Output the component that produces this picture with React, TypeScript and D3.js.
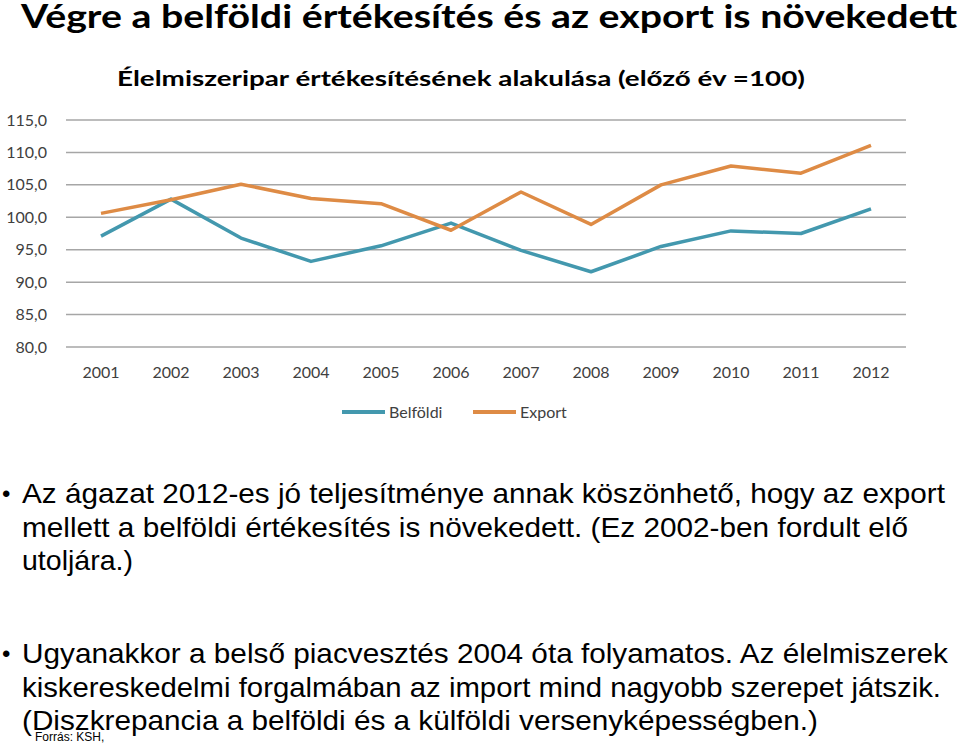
import * as d3 from "d3";
import { FC } from "react";

// chart data
const years = ["2001", "2002", "2003", "2004", "2005", "2006", "2007", "2008", "2009", "2010", "2011", "2012"];
const belfoldi = [97.1, 102.8, 96.8, 93.2, 95.6, 99.1, 94.9, 91.6, 95.5, 97.9, 97.5, 101.3];
const exportValues = [100.6, 102.7, 105.1, 102.9, 102.1, 98.0, 103.9, 98.9, 105.0, 107.9, 106.8, 111.1];
const yTicks = [80, 85, 90, 95, 100, 105, 110, 115];
const seriesNames = ["Belföldi", "Export"];

// slide text, with the width each line takes in the picture
const bulletOne = [
  { t: "Az ágazat 2012-es jó teljesítménye annak köszönhető, hogy az export", w: 923 },
  { t: "mellett a belföldi értékesítés is növekedett. (Ez 2002-ben fordult elő", w: 886 },
  { t: "utoljára.)", w: 111 },
];
const bulletTwo = [
  { t: "Ugyanakkor a belső piacvesztés 2004 óta folyamatos. Az élelmiszerek", w: 926 },
  { t: "kiskereskedelmi forgalmában az import mind nagyobb szerepet játszik.", w: 919 },
  { t: "(Diszkrepancia a belföldi és a külföldi versenyképességben.)", w: 796 },
];

const W = 960;
const H = 745;
const COLORS = ["#4398AE", "#DE8B45"];
const chartFont = "Lato, 'Open Sans', sans-serif";
const bodyFont = "'Liberation Sans', Arial, sans-serif";

const App: FC = () => {
  const x = d3.scaleBand<string>().domain(years).range([66, 906]);
  const y = d3.scaleLinear().domain([80, 115]).range([347, 120]);
  const cx = (yr: string) => (x(yr) ?? 0) + x.bandwidth() / 2;

  const line = d3
    .line<number>()
    .x((_, i) => cx(years[i]))
    .y((d) => y(d));

  const fmt = (v: number) => v.toFixed(1).replace(".", ",");

  return (
    <svg
      width={W}
      height={H}
      style={{ position: "absolute", left: 0, top: 0, background: "#fff" }}
    >
      {/* slide title */}
      <text
        x={21}
        y={28}
        fontFamily={chartFont}
        fontWeight={700}
        fontSize={33}
        textLength={936}
        lengthAdjust="spacingAndGlyphs"
        fill="#000"
      >
        Végre a belföldi értékesítés és az export is növekedett
      </text>

      {/* chart title */}
      <text
        x={117}
        y={86}
        fontFamily={chartFont}
        fontWeight={700}
        fontSize={21}
        textLength={688}
        lengthAdjust="spacingAndGlyphs"
        fill="#000"
      >
        Élelmiszeripar értékesítésének alakulása (előző év =100)
      </text>

      {/* grid + y labels */}
      {yTicks.map((t) => (
        <g key={t}>
          <line x1={66} x2={906} y1={y(t)} y2={y(t)} stroke="#A6A6A6" strokeWidth={1.5} />
          <text
            x={47}
            y={y(t)}
            dy="0.35em"
            textAnchor="end"
            fontFamily={chartFont}
            fontSize={16}
            fill="#404040"
          >
            {fmt(t)}
          </text>
        </g>
      ))}

      {/* x labels */}
      {years.map((yr) => (
        <text
          key={yr}
          x={cx(yr)}
          y={378}
          textAnchor="middle"
          fontFamily={chartFont}
          fontSize={16}
          fill="#404040"
        >
          {yr}
        </text>
      ))}

      {/* series */}
      {[belfoldi, exportValues].map((s, i) => (
        <path
          key={seriesNames[i]}
          d={line(s) ?? ""}
          fill="none"
          stroke={COLORS[i]}
          strokeWidth={3.5}
          strokeLinejoin="round"
        />
      ))}

      {/* legend */}
      {seriesNames.map((name, i) => {
        const lx = i === 0 ? 342 : 473;
        return (
          <g key={name}>
            <line x1={lx} x2={lx + 43} y1={412} y2={412} stroke={COLORS[i]} strokeWidth={4} />
            <text
              x={lx + 47}
              y={412}
              dy="0.35em"
              fontFamily={chartFont}
              fontSize={16}
              fill="#404040"
            >
              {name}
            </text>
          </g>
        );
      })}

      {/* bullets */}
      {[
        { lines: bulletOne, top: 503 },
        { lines: bulletTwo, top: 663 },
      ].map((b, bi) => (
        <g key={bi} fontFamily={bodyFont} fontSize={28} fill="#000">
          <text x={2} y={b.top - 1} fontSize={24}>
            •
          </text>
          {b.lines.map((l, li) => (
            <text
              key={li}
              x={22}
              y={b.top + li * 33.5}
              textLength={l.w}
              lengthAdjust="spacingAndGlyphs"
            >
              {l.t}
            </text>
          ))}
        </g>
      ))}

      {/* source */}
      <text x={35} y={741} fontFamily={bodyFont} fontSize={12} fill="#000">
        Forrás: KSH,
      </text>
    </svg>
  );
};

export default App;
